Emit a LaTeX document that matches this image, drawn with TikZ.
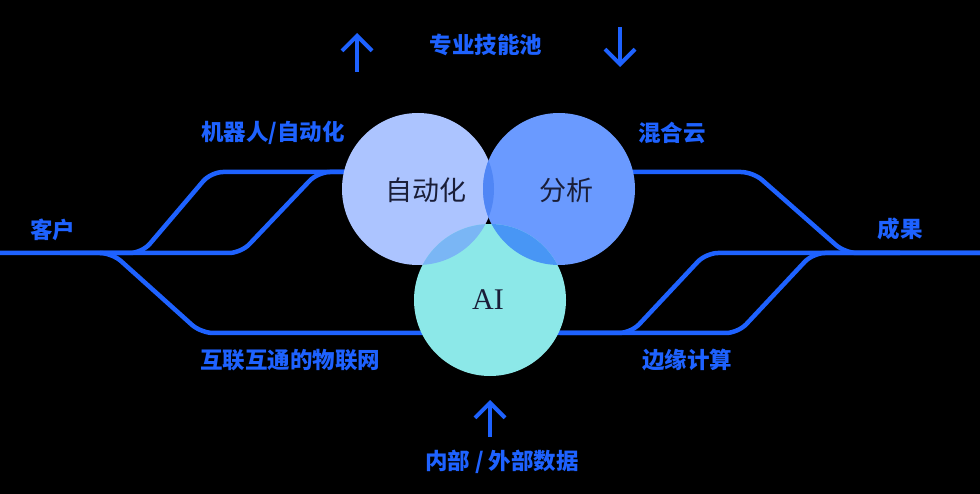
\documentclass[tikz,border=0pt]{standalone}
\usepackage{fontspec}
\usepackage{xcolor}
\usetikzlibrary{arrows.meta}
\newfontfamily\cjk{Noto Sans CJK SC}
\newfontfamily\latinserif{Liberation Serif}
\definecolor{trackblue}{RGB}{30,98,255}
\definecolor{autofill}{RGB}{172,196,255}
\definecolor{analfill}{RGB}{106,154,255}
\definecolor{aifill}{RGB}{140,232,232}
\definecolor{autoanal}{RGB}{80,134,245}
\definecolor{autoai}{RGB}{122,182,245}
\definecolor{analai}{RGB}{72,150,245}
\definecolor{allthree}{RGB}{70,130,240}
\definecolor{inktext}{RGB}{26,30,56}

\begin{document}
\begin{tikzpicture}[
    x=1pt, y=-1pt,
    track/.style={trackblue, line width=4.5pt, rounded corners=12pt},
    label/.style={text=trackblue, font=\cjk\bfseries\fontsize{22.5pt}{25pt}\selectfont, inner sep=0pt},
    venn/.style={circle, minimum size=152pt, inner sep=0pt},
    arrow/.style={-{Straight Barb[length=15pt, width=30pt]}, trackblue, line width=4pt}
]
\useasboundingbox[fill=black] (0,0) rectangle (980,494);

% ends of the tracks
\coordinate (inL) at (0,253);
\coordinate (outR) at (980,253);

% left side
\draw[track] (inL) -- (241,253) -- (318,172) -- (420,172);
\draw[track] (100,253) -- (142,253) -- (211,172) -- (420,172);
\draw[track] (60,253) -- (112,253) -- (201,333) -- (490,333);
% right side
\draw[track] (560,172) -- (753,172) -- (845,253) -- (outR);
\draw[track] (490,333) -- (631,333) -- (706,253) -- (outR);
\draw[track] (560,333) -- (738,333) -- (813,253) -- (900,253);

% the three circles
\node[venn, fill=autofill] (auto) at (418,189) {};
\node[venn, fill=analfill] (anal) at (559,189) {};
\node[venn, fill=aifill] (ai) at (490,300) {};
\begin{scope}
  \clip (auto.center) circle (76pt);
  \fill[autoanal] (anal.center) circle (76pt);
  \fill[autoai] (ai.center) circle (76pt);
\end{scope}
\begin{scope}
  \clip (anal.center) circle (76pt);
  \fill[analai] (ai.center) circle (76pt);
  \clip (ai.center) circle (76pt);
  \fill[allthree] (auto.center) circle (76pt);
\end{scope}

\node[text=inktext, font=\cjk\fontsize{27pt}{30pt}\selectfont] (autotxt) at (426,190) {自动化};
\node[text=inktext, font=\cjk\fontsize{27pt}{30pt}\selectfont] (analtxt) at (566,190) {分析};
\node[text=inktext, font=\latinserif\fontsize{30pt}{33pt}\selectfont] (aitxt) at (488,300) {AI};

% labels
\node[label] (customer) at (53,230) {客户};
\node[label] (result) at (900,229) {成果};
\node[label] (robot) at (273,133) {机器人/自动化};
\node[label] (cloud) at (672,133) {混合云};
\node[label] (iot) at (290,360) {互联互通的物联网};
\node[label] (edge) at (687,360) {边缘计算};
\node[label] (skills) at (486,45) {专业技能池};
\node[label] (data) at (502,462) {内部 / 外部数据};

% arrows
\coordinate (upA) at (357,72);
\coordinate (upB) at (357,33);
\coordinate (downA) at (620,27);
\coordinate (downB) at (620,67);
\coordinate (dataA) at (490,437);
\coordinate (dataB) at (490,400);
\draw[arrow] (upA) -- (upB);
\draw[arrow] (downA) -- (downB);
\draw[arrow] (dataA) -- (dataB);
\end{tikzpicture}
\end{document}
